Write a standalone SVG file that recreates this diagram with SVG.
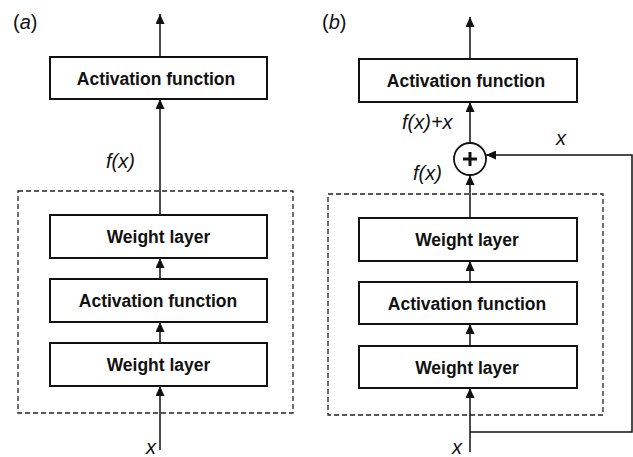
<svg xmlns="http://www.w3.org/2000/svg" width="633" height="457" viewBox="0 0 633 457">
  <style>
    .box { fill: #fff; stroke: #111; stroke-width: 2; }
    .group { fill: none; stroke: #222; stroke-width: 1.3; stroke-dasharray: 5 3; }
    .wire { fill: none; stroke: #111; stroke-width: 1.5; }
    .lbl { font-family: "Liberation Sans", Arial, sans-serif; font-weight: bold; font-size: 17.5px; fill: #111; text-anchor: middle; }
    .math { font-family: "Liberation Sans", Arial, sans-serif; font-style: italic; font-size: 20px; fill: #111; }
    .tag { font-family: "Liberation Sans", Arial, sans-serif; font-size: 20px; fill: #111; }
  </style>
  <defs>
    <marker id="arrow" viewBox="0 0 10 9" refX="10" refY="4.5" markerWidth="10" markerHeight="9" markerUnits="userSpaceOnUse" orient="auto">
      <path d="M0,0 L10,4.5 L0,9 z" fill="#111"/>
    </marker>
  </defs>
  <rect width="633" height="457" fill="#fff"/>

  <!-- panel labels -->
  <text class="tag" x="13" y="29">(<tspan font-style="italic">a</tspan>)</text>
  <text class="tag" x="322" y="29">(<tspan font-style="italic">b</tspan>)</text>

  <!-- grouping frames around the stacked layers -->
  <rect class="group" x="18" y="191" width="275" height="222"/>
  <rect class="group" x="328" y="194" width="275" height="221"/>

  <!-- connectors -->
  <g id="connectors">
    <!-- plain block -->
    <line class="wire" x1="160" y1="450" x2="160" y2="386" marker-end="url(#arrow)"/>
    <line class="wire" x1="160" y1="343" x2="160" y2="322" marker-end="url(#arrow)"/>
    <line class="wire" x1="160" y1="279" x2="160" y2="258" marker-end="url(#arrow)"/>
    <line class="wire" x1="160" y1="215" x2="160" y2="99" marker-end="url(#arrow)"/>
    <line class="wire" x1="160" y1="57" x2="160" y2="14" marker-end="url(#arrow)"/>
    <!-- residual block -->
    <line class="wire" x1="470" y1="452" x2="470" y2="388" marker-end="url(#arrow)"/>
    <line class="wire" x1="470" y1="346" x2="470" y2="324" marker-end="url(#arrow)"/>
    <line class="wire" x1="470" y1="282" x2="470" y2="261" marker-end="url(#arrow)"/>
    <line class="wire" x1="470" y1="218" x2="470" y2="175" marker-end="url(#arrow)"/>
    <line class="wire" x1="470" y1="143" x2="470" y2="102" marker-end="url(#arrow)"/>
    <line class="wire" x1="470" y1="59" x2="470" y2="17" marker-end="url(#arrow)"/>
    <!-- identity shortcut -->
    <polyline class="wire" points="470,432 632,432 632,155 486,155" marker-end="url(#arrow)"/>
  </g>

  <!-- plain block nodes -->
  <g id="a-act-out">
    <rect class="box" x="50" y="57" width="217" height="42"/>
    <text class="lbl" x="156" y="84.5">Activation function</text>
  </g>
  <g id="a-weight-2">
    <rect class="box" x="50" y="215" width="217" height="43"/>
    <text class="lbl" x="158.5" y="243">Weight layer</text>
  </g>
  <g id="a-act-mid">
    <rect class="box" x="50" y="279" width="217" height="43"/>
    <text class="lbl" x="158" y="307">Activation function</text>
  </g>
  <g id="a-weight-1">
    <rect class="box" x="50" y="343" width="217" height="43"/>
    <text class="lbl" x="158.5" y="371">Weight layer</text>
  </g>

  <!-- residual block nodes -->
  <g id="b-act-out">
    <rect class="box" x="359" y="59" width="218" height="43"/>
    <text class="lbl" x="466" y="87">Activation function</text>
  </g>
  <g id="b-sum">
    <circle cx="470" cy="159" r="16" fill="#fff" stroke="#111" stroke-width="1.8"/>
    <path d="M463,159 H477 M470,152 V166" stroke="#111" stroke-width="3" fill="none"/>
  </g>
  <g id="b-weight-2">
    <rect class="box" x="359" y="218" width="218" height="43"/>
    <text class="lbl" x="467" y="246">Weight layer</text>
  </g>
  <g id="b-act-mid">
    <rect class="box" x="359" y="282" width="218" height="42"/>
    <text class="lbl" x="467" y="309.5">Activation function</text>
  </g>
  <g id="b-weight-1">
    <rect class="box" x="359" y="346" width="218" height="42"/>
    <text class="lbl" x="467" y="373.5">Weight layer</text>
  </g>

  <!-- signal labels -->
  <text class="math" x="106" y="168">f(x)</text>
  <text class="math" x="146" y="454">x</text>
  <text class="math" x="402" y="129">f(x)+x</text>
  <text class="math" x="413" y="180">f(x)</text>
  <text class="math" x="556" y="145">x</text>
  <text class="math" x="452" y="454">x</text>
</svg>
